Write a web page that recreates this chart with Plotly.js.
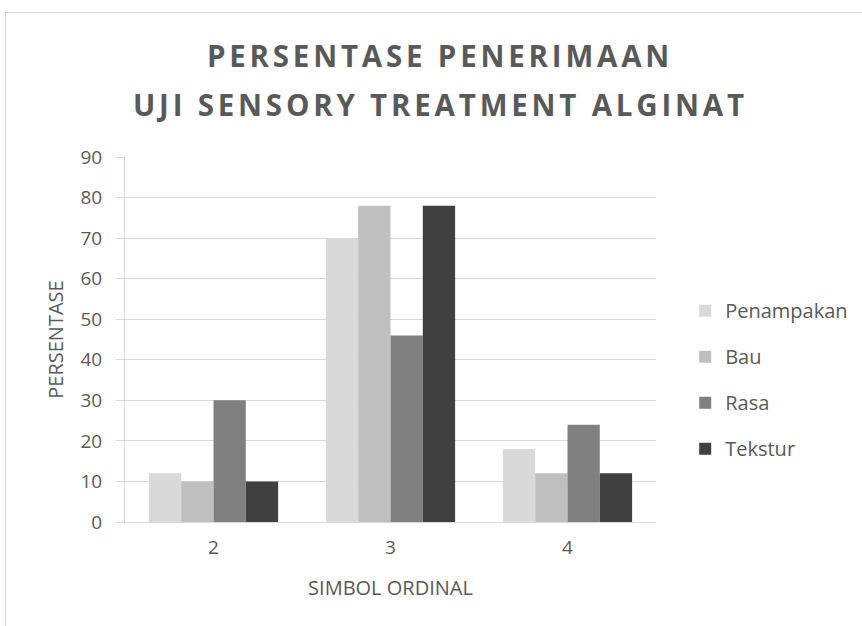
<!DOCTYPE html>
<html><head><meta charset="utf-8">
<script src="https://cdn.plot.ly/plotly-3.0.1.min.js"></script>
<style>
body{margin:0;padding:0;background:#fff;}
#frame{position:absolute;left:5px;top:12px;width:1000px;height:800px;border:1px solid #d9d9d9;box-sizing:border-box;}
#chart{position:absolute;left:0;top:0;width:862px;height:626px;}
.gtitle, .annotation-text{letter-spacing:3.8px;}
</style></head>
<body>
<div id="frame"></div>
<div id="chart"></div>
<script>
const titleLine1 = 'PERSENTASE PENERIMAAN';
const titleLine2 = 'UJI SENSORY TREATMENT ALGINAT';
const categories = ['2', '3', '4'];
const seriesNames = ['Penampakan', 'Bau', 'Rasa', 'Tekstur'];
const penampakan = [12, 70, 18];
const bau = [10, 78, 12];
const rasa = [30, 46, 24];
const tekstur = [10, 78, 12];
const yTicks = [0, 10, 20, 30, 40, 50, 60, 70, 80, 90];
const colors = ['#d9d9d9', '#bfbfbf', '#808080', '#404040'];

const values = [penampakan, bau, rasa, tekstur];
const font = 'Open Sans, sans-serif';
const data = values.map((v, i) => ({
  type: 'bar', x: categories, y: v, name: seriesNames[i],
  marker: {color: colors[i]}, legendgroup: 'g' + i,
  hoverinfo: 'skip'
}));

const titleFont = {family: font, size: 29.5, color: '#595959', weight: 'bold'};
const layout = {
  width: 862, height: 626,
  paper_bgcolor: 'rgba(0,0,0,0)', plot_bgcolor: 'rgba(0,0,0,0)',
  margin: {l: 125, r: 206, t: 157, b: 104, autoexpand: false},
  font: {family: font, color: '#595959', size: 19},
  title: {
    text: titleLine1,
    font: titleFont,
    x: 440 / 862, xref: 'container', y: 1 - 57/626, yref: 'container', yanchor: 'middle'
  },
  annotations: [{
    text: titleLine2, font: titleFont, showarrow: false,
    xref: 'paper', x: (440 - 125) / 531, xanchor: 'center',
    yref: 'paper', y: (522 - 104) / 365, yanchor: 'middle'
  }],
  bargap: 0.27, bargroupgap: 0,
  barmode: 'group',
  xaxis: {
    type: 'category', showline: true, linecolor: '#d9d9d9', linewidth: 1,
    ticks: '', tickfont: {size: 19, color: '#595959'}, ticklabelstandoff: 8,
    title: {text: 'SIMBOL ORDINAL', font: {size: 20, color: '#595959'}, standoff: 22}
  },
  yaxis: {
    range: [0, 90], tickvals: yTicks, showgrid: true, gridcolor: '#d9d9d9', gridwidth: 1,
    showline: true, linecolor: '#d9d9d9', linewidth: 1, zeroline: false,
    ticks: 'outside', ticklen: 8, tickcolor: '#d9d9d9',
    tickfont: {size: 19, color: '#595959'}, ticklabelstandoff: 10,
    title: {text: 'PERSENTASE', font: {size: 20, color: '#595959'}, standoff: 11}
  },
  legend: {
    x: 1.055, xanchor: 'left', y: 0.39, yanchor: 'middle',
    font: {size: 20, color: '#595959'}, traceorder: 'grouped', tracegroupgap: 17,
    itemwidth: 30
  },
  showlegend: true
};
Plotly.newPlot('chart', data, layout, {staticPlot: true, displayModeBar: false});
</script>
</body></html>
